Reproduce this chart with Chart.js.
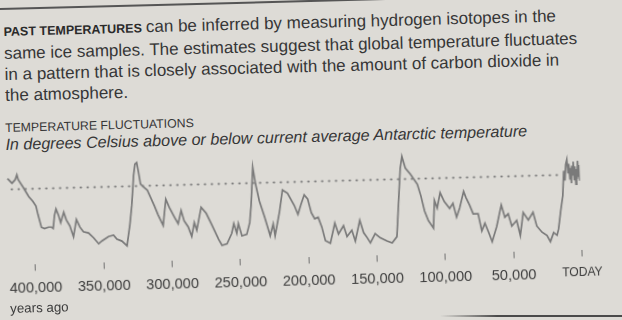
<!DOCTYPE html>
<html>
<head>
<meta charset="utf-8">
<script src="https://cdn.jsdelivr.net/npm/chart.js@4.4.1/dist/chart.umd.min.js"></script>
<style>
  html, body { margin: 0; padding: 0; background: #dddbd6; overflow: hidden; }
  body { width: 622px; height: 320px; position: relative; font-family: "Liberation Sans", Arial, sans-serif; color: #363636; }
  #page { position: absolute; left: 0; top: 0; width: 622px; height: 320px; transform: rotate(-1.5deg); transform-origin: 311px 160px; }
  .rule { position: absolute; left: -30px; top: 0; width: 700px; height: 1.5px; background: #555; }
  .intro { position: absolute; left: 7px; top: 12px; font-size: 17px; line-height: 21px; white-space: nowrap; }
  .intro b { font-size: 12.5px; font-weight: bold; color: #2a2a2a; margin-right: 4px; }
  .kicker { position: absolute; left: 6px; top: 112.6px; font-size: 12.3px; line-height: 14px; white-space: nowrap; }
  .sub { position: absolute; left: 6px; top: 127px; font-size: 16.1px; line-height: 19px; font-style: italic; white-space: nowrap; }
  .ago { position: absolute; left: 6.4px; top: 293px; font-size: 13.3px; line-height: 16px; color: #3c3c3c; }
  #chart { position: absolute; left: 0; top: 0; }
  .smudge { position: absolute; left: 440px; top: 315px; width: 190px; height: 2px; background: linear-gradient(to right, rgba(60,60,60,0), #4a4a4a 30%); }
</style>
</head>
<body>
<div id="page">
  <div class="rule"></div>
  <div class="intro">
    <div><b>PAST TEMPERATURES</b>can be inferred by measuring hydrogen isotopes in the</div>
    <div>same ice samples. The estimates suggest that global temperature fluctuates</div>
    <div>in a pattern that is closely associated with the amount of carbon dioxide in</div>
    <div>the atmosphere.</div>
  </div>
  <div class="kicker">TEMPERATURE FLUCTUATIONS</div>
  <div class="sub">In degrees Celsius above or below current average Antarctic temperature</div>
  <canvas id="chart" width="622" height="320"></canvas>
  <div class="ago">years ago</div>
</div>
<div class="smudge"></div>

<script>
// thousands of years ago
const yearsAgo = [
  418.8, 415.6, 413.2, 411.9, 411.0, 407.3, 403.6, 400.7, 398.5, 397.1,
  394.9, 392.7, 389.7, 387.5, 386.3, 385.1, 383.9, 382.2, 380.7, 378.3,
  376.6, 374.1, 371.6, 369.2, 366.8, 364.3, 360.6, 357.0, 353.3, 350.9,
  346.0, 342.3, 339.9, 336.3, 332.6, 330.1, 328.4, 326.5, 325.3, 324.0,
  322.9, 321.6, 319.2, 316.8, 311.9, 309.4, 305.8, 303.4, 301.0, 297.2,
  294.8, 292.4, 290.4, 287.5, 285.1, 283.0, 281.3, 277.7, 274.1, 270.4,
  265.5, 263.1, 259.4, 255.8, 254.1, 252.1, 250.8, 248.4, 244.8, 242.4,
  241.1, 239.9, 239.2, 237.5, 235.0, 231.4, 228.9, 227.7, 225.3, 224.1,
  220.4, 217.9, 214.3, 209.5, 207.0, 204.5, 202.1, 199.6, 197.2, 194.8,
  192.3, 189.8, 187.4, 183.8, 180.2, 177.7, 173.9, 171.5, 167.9, 165.5,
  161.9, 159.3, 156.9, 154.5, 150.9, 147.2, 142.3, 138.6, 135.0, 132.6,
  131.3, 129.9, 127.6, 124.0, 119.1, 116.7, 114.3, 111.7, 108.1, 106.9,
  105.0, 102.6, 99.7, 95.9, 93.4, 91.0, 88.6, 85.4, 83.8, 81.3,
  78.8, 75.2, 72.8, 70.4, 67.9, 65.4, 61.8, 58.1, 55.7, 53.2,
  50.8, 47.1, 44.7, 42.2, 38.6, 35.0, 32.5, 28.8, 25.2, 22.8,
  20.3, 17.8, 16.6, 14.7, 12.9,
  11.8, 11.0, 10.2, 9.3, 8.6, 8.0, 7.3, 6.9, 6.3, 5.8,
  5.2, 4.7, 4.1, 3.6, 3.0, 2.5, 2.0, 1.5, 1.0, 0.6, 0.2
];

// degrees Celsius relative to current average
const tempAnomaly = [
  1.6, 0.9, 1.4, 2.1, 1.4, 0.2, -1.1, -1.8, -2.5, -3.8,
  -5.6, -5.8, -5.6, -5.6, -5.8, -3.9, -3.0, -3.9, -5.0, -3.5,
  -4.6, -5.5, -7.1, -4.6, -5.7, -6.4, -6.6, -7.3, -8.2, -7.8,
  -7.2, -7.0, -7.6, -7.9, -8.6, -5.5, -2.8, 1.6, 3.2, 3.4,
  2.1, 0.3, -0.2, -0.6, -2.9, -4.2, -5.8, -2.0, -3.2, -4.7,
  -5.6, -3.7, -5.2, -6.1, -7.5, -5.5, -6.6, -3.3, -4.2, -5.8,
  -8.0, -8.9, -8.7, -7.2, -5.8, -7.2, -5.8, -7.6, -7.4, -5.7,
  -3.2, 0.3, 2.3, -0.1, -2.6, -5.0, -6.8, -7.7, -6.0, -7.7,
  -4.2, -1.1, -1.6, -3.4, -4.7, -3.2, -1.9, -2.5, -4.5, -5.4,
  -5.2, -6.6, -8.6, -9.0, -6.1, -7.7, -6.5, -8.1, -7.2, -8.8,
  -5.8, -7.6, -8.3, -9.1, -7.8, -8.4, -8.9, -9.2, -8.3, -1.8,
  1.6, 3.3, 1.6, 0.7, -0.8, -2.5, -4.7, -6.1, -7.2, -3.2,
  -4.3, -2.1, -3.4, -4.4, -3.7, -5.7, -4.4, -2.0, -2.9, -4.0,
  -5.3, -5.3, -7.8, -6.7, -8.0, -9.4, -7.2, -4.1, -5.9, -5.4,
  -7.2, -6.4, -8.6, -5.3, -6.4, -5.3, -7.3, -8.2, -8.7, -9.6,
  -8.3, -8.7, -7.8, -5.2, -3.0,
  0.6, -0.8, 1.5, 2.2, 0.2, 1.6, -0.6, 1.0, -1.2, 1.3,
  0.0, 1.9, -0.8, 1.2, -1.4, 0.8, -0.6, 2.0, -0.2, 1.4, -0.9
];

const tickYears = [0, 50000, 100000, 150000, 200000, 250000, 300000, 350000, 400000];
// dotted reference line at today's average
const baselineYears = [416000, 15000];

const lineData = yearsAgo.map((k, i) => ({ x: k * 1000, y: tempAnomaly[i] }));
const baseData = baselineYears.map(v => ({ x: v, y: 0 }));

new Chart(document.getElementById('chart'), {
  type: 'line',
  data: {
    datasets: [
      {
        data: baseData,
        borderColor: '#7e7e7e',
        borderWidth: 2,
        borderDash: [0.5, 6.4],
        borderCapStyle: 'round',
        pointRadius: 0
      },
      {
        data: lineData,
        borderColor: '#7a7a7a',
        borderWidth: 1.7,
        pointRadius: 0,
        tension: 0
      }
    ]
  },
  options: {
    responsive: false,
    animation: false,
    layout: { padding: { left: 0, right: 42.6, top: 154, bottom: 21 } },
    plugins: { legend: { display: false }, tooltip: { enabled: false } },
    scales: {
      x: {
        type: 'linear',
        reverse: true,
        min: 0,
        max: 424000,
        afterBuildTicks: axis => { axis.ticks = tickYears.map(v => ({ value: v })); },
        border: { display: false },
        grid: { drawOnChartArea: false, drawTicks: true, tickLength: 6, tickColor: '#707070', lineWidth: 1 },
        ticks: {
          autoSkip: false,
          maxRotation: 0,
          padding: 9,
          color: '#3c3c3c',
          font: ctx => ({ family: '"Liberation Sans", Arial, sans-serif', size: ctx.tick && ctx.tick.value === 0 ? 12.1 : 14.6 }),
          callback: v => v === 0 ? 'TODAY' : v.toLocaleString('en-US')
        }
      },
      y: { display: false, min: -11, max: 4 }
    }
  }
});
</script>
</body>
</html>
